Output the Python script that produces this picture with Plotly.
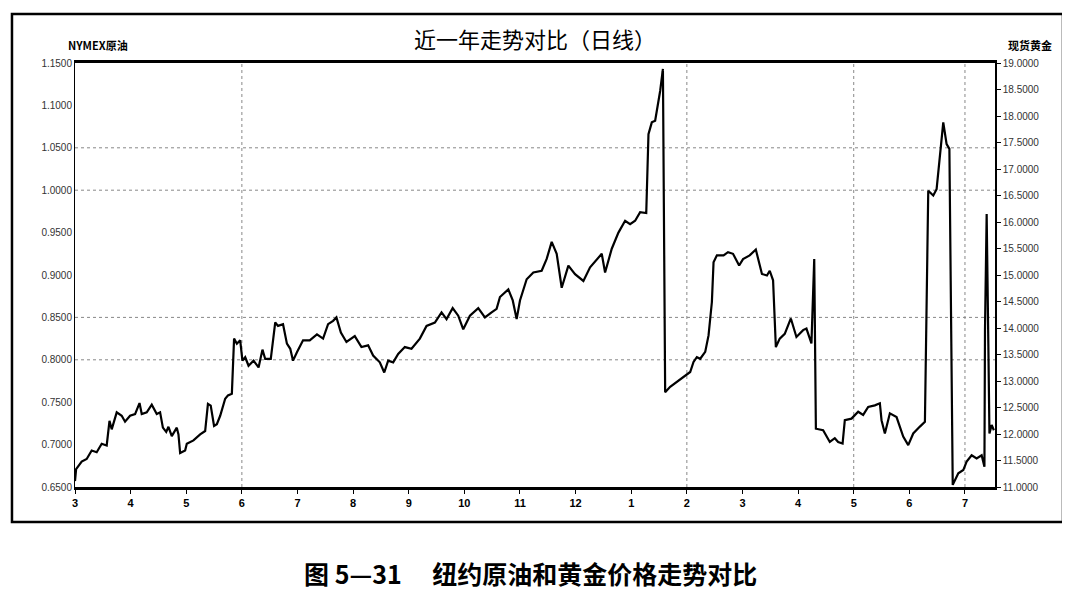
import plotly.graph_objects as go

# Month tick labels (index 0 = March of first year)
tick_pos = list(range(17))
tick_labels = ["3", "4", "5", "6", "7", "8", "9", "10", "11", "12",
               "1", "2", "3", "4", "5", "6", "7"]

# NYMEX crude (left axis)
oil_x = [0.00, 0.02, 0.12, 0.21, 0.30, 0.39, 0.48, 0.57, 0.62, 0.66, 0.75, 0.84, 0.90, 0.99,
         1.08, 1.16, 1.20, 1.29, 1.38, 1.47, 1.53, 1.58, 1.64, 1.68, 1.74, 1.83, 1.86, 1.89,
         1.98, 2.01, 2.13, 2.25, 2.34, 2.39, 2.44, 2.50, 2.55, 2.61, 2.70, 2.75, 2.82, 2.86,
         2.91, 2.97, 3.01, 3.06, 3.12, 3.21, 3.30, 3.37, 3.42, 3.52, 3.60, 3.65, 3.74, 3.81,
         3.87, 3.92, 3.99, 4.10, 4.22, 4.35, 4.46, 4.55, 4.64, 4.70, 4.78, 4.88, 5.03, 5.15,
         5.27, 5.36, 5.48, 5.56, 5.63, 5.72, 5.81, 5.93, 6.05, 6.20, 6.32, 6.47, 6.59, 6.68,
         6.79, 6.89, 6.98, 7.10, 7.25, 7.37, 7.49, 7.58, 7.64, 7.79, 7.87, 7.94, 8.00, 8.12,
         8.24, 8.39, 8.48, 8.57, 8.66, 8.75, 8.87, 8.99, 9.14, 9.26, 9.47, 9.53, 9.65, 9.77,
         9.89, 9.98, 10.07, 10.16, 10.27, 10.31, 10.37, 10.43, 10.52, 10.57]
oil_y = [0.657, 0.671, 0.680, 0.683, 0.693, 0.691, 0.701, 0.699, 0.728, 0.718, 0.738, 0.734,
         0.727, 0.734, 0.736, 0.749, 0.736, 0.738, 0.747, 0.736, 0.738, 0.720, 0.715, 0.721,
         0.710, 0.720, 0.712, 0.690, 0.693, 0.701, 0.705, 0.712, 0.716, 0.748, 0.746, 0.722,
         0.724, 0.734, 0.754, 0.758, 0.760, 0.825, 0.819, 0.823, 0.799, 0.803, 0.793, 0.799,
         0.791, 0.812, 0.801, 0.801, 0.844, 0.840, 0.842, 0.819, 0.813, 0.799, 0.809, 0.823,
         0.823, 0.830, 0.825, 0.842, 0.846, 0.850, 0.832, 0.821, 0.828, 0.815, 0.817, 0.805,
         0.797, 0.785, 0.799, 0.797, 0.807, 0.815, 0.813, 0.825, 0.840, 0.844, 0.856, 0.848,
         0.861, 0.852, 0.836, 0.852, 0.861, 0.850, 0.856, 0.860, 0.874, 0.883, 0.870, 0.848,
         0.870, 0.895, 0.903, 0.905, 0.919, 0.939, 0.925, 0.885, 0.911, 0.901, 0.893, 0.909,
         0.925, 0.903, 0.931, 0.950, 0.964, 0.960, 0.964, 0.974, 0.973, 1.066, 1.080, 1.082,
         1.117, 1.143]

# Spot gold (right axis)
gold_x = [10.57, 10.61, 10.70, 10.82, 10.94, 11.06, 11.12, 11.18, 11.24, 11.33, 11.39, 11.45,
          11.48, 11.54, 11.66, 11.74, 11.83, 11.94, 12.01, 12.13, 12.24, 12.35, 12.44, 12.49,
          12.55, 12.60, 12.67, 12.76, 12.87, 12.97, 13.09, 13.15, 13.24, 13.29, 13.32, 13.45,
          13.57, 13.66, 13.72, 13.80, 13.84, 13.96, 14.08, 14.17, 14.26, 14.38, 14.47, 14.50,
          14.56, 14.65, 14.77, 14.89, 14.98, 15.07, 15.19, 15.28, 15.34, 15.43, 15.49, 15.55,
          15.61, 15.67, 15.72, 15.78, 15.88, 15.97, 16.03, 16.12, 16.21, 16.30, 16.35, 16.36,
          16.39, 16.42, 16.44, 16.48, 16.52]
gold_y = [18.85, 12.79, 12.89, 12.98, 13.08, 13.17, 13.36, 13.45, 13.42, 13.55, 13.86, 14.49,
          15.24, 15.37, 15.37, 15.43, 15.40, 15.18, 15.30, 15.37, 15.48, 15.02, 14.99, 15.08,
          14.90, 13.64, 13.80, 13.89, 14.18, 13.83, 13.96, 13.99, 13.71, 15.30, 12.10, 12.07,
          11.85, 11.92, 11.85, 11.82, 12.26, 12.29, 12.42, 12.36, 12.51, 12.54, 12.58, 12.26,
          12.01, 12.39, 12.32, 11.95, 11.79, 12.01, 12.14, 12.23, 16.59, 16.50, 16.62, 17.31,
          17.88, 17.47, 17.38, 11.04, 11.26, 11.32, 11.48, 11.60, 11.54, 11.60, 11.38, 13.96,
          16.15, 13.71, 12.01, 12.17, 12.07]

left_ticks = [0.65, 0.70, 0.75, 0.80, 0.85, 0.90, 0.95, 1.00, 1.05, 1.10, 1.15]
right_ticks = [11.0 + 0.5 * i for i in range(17)]
h_grid = [0.80, 0.85, 1.00, 1.05]
v_grid = [3, 11, 14, 16]

fig = go.Figure()
fig.add_trace(go.Scatter(x=oil_x, y=oil_y, mode="lines", name="NYMEX原油",
                         line=dict(color="black", width=2.2), yaxis="y"))
fig.add_trace(go.Scatter(x=gold_x, y=gold_y, mode="lines", name="现货黄金",
                         line=dict(color="black", width=2.2), yaxis="y2"))

shapes = []
for v in h_grid:
    shapes.append(dict(type="line", xref="paper", yref="y", x0=0, x1=1, y0=v, y1=v,
                       line=dict(color="#888", width=1, dash="dot"), layer="below"))
for v in v_grid:
    shapes.append(dict(type="line", xref="x", yref="paper", x0=v, x1=v, y0=0, y1=1,
                       line=dict(color="#888", width=1, dash="dot"), layer="below"))
# outer frame
shapes.append(dict(type="rect", xref="paper", yref="paper", x0=-0.0685, x1=1.0739,
                   y0=-0.0825, y1=1.1156, line=dict(color="black", width=2.5)))

tickfont = dict(family="Liberation Sans", size=10, color="#333")

fig.update_layout(
    width=1062, height=583,
    margin=dict(l=67, r=75, t=55, b=104),
    paper_bgcolor="white", plot_bgcolor="white",
    showlegend=False,
    xaxis=dict(range=[0, 16.54], tickvals=tick_pos, ticktext=tick_labels,
               showgrid=False, zeroline=False, showline=True, mirror=True,
               linecolor="black", linewidth=2.5, ticks="outside", ticklen=4,
               tickcolor="black",
               tickfont=dict(family="Liberation Sans", size=11, color="black", weight="bold")),
    yaxis=dict(range=[0.65, 1.15], tickvals=left_ticks,
               ticktext=[f"{v:.4f}" for v in left_ticks],
               showgrid=False, zeroline=False, showline=True, linecolor="black",
               linewidth=1, ticks="", tickfont=tickfont),
    yaxis2=dict(range=[11, 19], tickvals=right_ticks,
                ticktext=[f"{v:.4f}" for v in right_ticks],
                overlaying="y", side="right", showgrid=False, zeroline=False,
                showline=True, linecolor="black", linewidth=1.5, ticks="outside",
                ticklen=4, tickcolor="black", tickfont=tickfont),
    shapes=shapes,
    annotations=[
        dict(text="近一年走势对比（日线）", xref="paper", yref="paper", x=0.5, y=1.059,
             xanchor="center", yanchor="middle", showarrow=False,
             font=dict(family="Noto Sans CJK SC", size=22, color="black")),
        dict(text="<b>NYMEX原油</b>", xref="paper", yref="paper", x=0.025, y=1.042,
             xanchor="center", yanchor="middle", showarrow=False,
             font=dict(family="Noto Sans CJK SC", size=11, color="black")),
        dict(text="<b>现货黄金</b>", xref="paper", yref="paper", x=1.038, y=1.042,
             xanchor="center", yanchor="middle", showarrow=False,
             font=dict(family="Noto Sans CJK SC", size=11, color="black")),
        dict(text="<b>图 5—31　 纽约原油和黄金价格走势对比</b>", xref="paper", yref="paper",
             x=0.4956, y=-0.203, xanchor="center", yanchor="middle", showarrow=False,
             font=dict(family="Noto Sans CJK SC", size=25, color="black")),
    ],
)

fig.write_html("out.html")
